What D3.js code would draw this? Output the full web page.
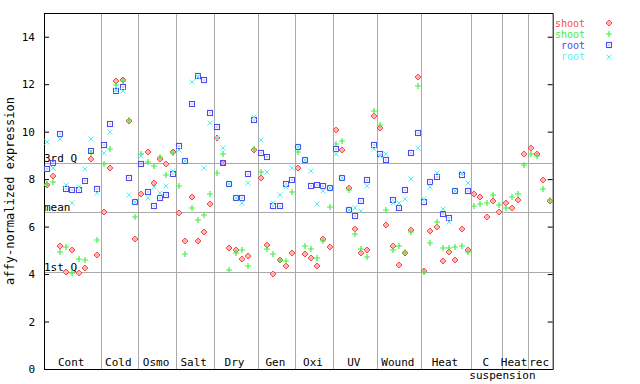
<!DOCTYPE html>
<html lang="en">
<head>
    <meta charset="UTF-8">
    <title>affy-normalized expression</title>
    <script src="https://d3js.org/d3.v7.min.js"></script>
    <style>
        body { margin: 0; background: #fff; }
        text { font-family: "DejaVu Sans Mono", monospace; font-size: 11px; }
    </style>
</head>
<body>
    <script>
        // groups of samples along x, and how many samples each holds
        var groupNames = ["Cont", "Cold", "Osmo", "Salt", "Dry", "Gen", "Oxi", "UV", "Wound", "Heat", "C", "Heat", "rec"];
        var groupSizes = [9, 6, 6, 6, 7, 6, 6, 7, 7, 8, 5, 4, 4];

        // shoot series (all 81 samples)
        var shootRed = [
            7.76, 8.12, 5.19, 4.09, 5.02, 4.04, 4.26, 8.86, 4.81,
            6.61, 8.47, 12.12, 12.18, 10.46, 5.47,
            7.37, 9.14, 7.83, 8.85, 8.64, 9.14,
            6.57, 5.39, 7.24, 5.39, 5.77, 6.95,
            9.73, 8.68, 5.09, 5.00, 4.63, 4.77, 9.24,
            8.05, 5.22, 4.00, 4.59, 4.33, 4.88,
            8.47, 4.84, 4.67, 4.33, 5.47, 5.13,
            10.07, 9.23, 7.64, 5.89, 4.88, 5.00, 10.66,
            10.16, 6.06, 5.19, 4.37, 4.89, 5.85, 12.31,
            4.13, 5.81, 5.98, 4.54, 4.91, 4.59, 5.89, 5.01,
            7.37, 7.24, 6.40, 7.07, 6.61,
            6.99, 6.78, 7.12, 9.06,
            9.31, 9.06, 7.96, 7.07
        ];
        var shootGreen = [
            7.79, 7.88, 4.93, 5.14, 4.05, 4.63, 4.59, 9.10, 5.43,
            8.65, 9.27, 11.95, 12.12, 10.50, 6.40,
            9.06, 8.72, 8.55, 8.93, 8.17, 9.10,
            7.72, 4.85, 6.78, 6.27, 6.48, 7.37,
            8.26, 9.06, 4.17, 4.88, 5.01, 4.33, 9.28,
            8.30, 5.05, 4.84, 4.59, 4.54, 7.45,
            9.14, 5.19, 5.05, 4.67, 5.39, 6.83,
            9.49, 9.60, 7.54, 5.69, 5.05, 4.71, 10.87,
            10.28, 6.69, 5.00, 5.18, 4.94, 5.77, 11.93,
            4.08, 5.31, 6.19, 5.09, 5.09, 5.13, 5.18, 4.95,
            6.86, 6.95, 6.99, 7.33, 6.91,
            6.78, 7.24, 7.37, 8.58,
            9.06, 8.99, 7.58, 7.10
        ];
        // root series (first 68 samples only)
        var rootBlue = [
            8.44, 8.68, 9.90, 7.58, 7.55, 7.55, 7.93, 9.18, 7.59,
            9.42, 10.32, 11.73, 11.87, 8.05, 7.02,
            8.64, 7.45, 6.86, 7.20, 7.33, 8.21,
            9.38, 8.75, 11.17, 12.33, 12.18, 10.78,
            10.20, 8.68, 7.81, 7.20, 7.20, 8.21, 10.50,
            9.10, 8.93, 6.86, 6.86, 7.81, 7.96,
            9.35, 8.80, 7.71, 7.75, 7.71, 7.62,
            9.27, 8.03, 6.69, 6.45, 7.07, 7.98, 9.44,
            9.06, 8.80, 7.12, 6.78, 7.54, 9.10, 9.94,
            7.03, 7.88, 8.09, 6.53, 6.36, 7.52, 8.17, 7.50
        ];
        var rootCyan = [
            9.58, 8.45, 9.69, 7.75, 6.99, 7.67, 8.44, 9.69, 7.40,
            9.10, 9.99, 11.75, 11.72, 7.33, 7.05,
            8.99, 7.20, 7.67, 7.41, 7.70, 8.35,
            9.22, 8.75, 12.10, 12.30, 8.47, 10.37,
            9.73, 9.31, 7.81, 7.20, 6.99, 7.83, 10.63,
            9.65, 8.30, 7.01, 7.33, 7.66, 8.47,
            9.35, 8.80, 8.34, 6.95, 7.48, 7.62,
            9.06, 8.03, 6.70, 6.80, 6.65, 7.71, 9.28,
            8.99, 9.06, 6.99, 6.99, 7.16, 8.00, 9.31,
            7.16, 7.67, 8.26, 6.74, 6.20, 7.52, 8.26, 7.83
        ];

        var yTicks = [0, 2, 4, 6, 8, 10, 12, 14];
        var refLabels = ["3rd Q", "mean", "1st Q"];
        var refValues = [8.68, 6.61, 4.08];
        var legendLabels = ["shoot", "shoot", "root", "root"];

        var colors = { red: "#ff4a4a", green: "#44ee44", blue: "#4c4cf0", cyan: "#55f2f2" };

        // plot box (names avoid window.top etc.)
        var svgWidth = 640, svgHeight = 384;
        var plotLeft = 44, plotRight = 552.7, plotTop = 13, plotBottom = 369;
        var total = d3.sum(groupSizes);

        var svg = d3.select("body").append("svg")
            .attr("width", svgWidth)
            .attr("height", svgHeight);

        var x = d3.scaleLinear().domain([0, total]).range([plotLeft, plotRight]);
        var y = d3.scaleLinear().domain([0, 15]).range([plotBottom, plotTop]);

        // cumulative start of each group
        var starts = [];
        var acc = 0;
        groupSizes.forEach(function(n) { starts.push(acc); acc += n; });

        // group dividers
        svg.selectAll("line.div")
            .data(starts.slice(1))
            .enter().append("line")
            .attr("x1", function(d) { return Math.round(x(d)) + 0.5; })
            .attr("x2", function(d) { return Math.round(x(d)) + 0.5; })
            .attr("y1", plotTop).attr("y2", plotBottom)
            .attr("stroke", "#aaa");

        // quartile / mean lines
        svg.selectAll("line.ref")
            .data(refValues)
            .enter().append("line")
            .attr("x1", plotLeft).attr("x2", plotRight)
            .attr("y1", function(d) { return Math.round(y(d)) + 0.5; })
            .attr("y2", function(d) { return Math.round(y(d)) + 0.5; })
            .attr("stroke", "#aaa");

        svg.selectAll("text.ref")
            .data(refValues)
            .enter().append("text")
            .attr("x", plotLeft)
            .attr("y", function(d) { return Math.round(y(d)) - 1; })
            .text(function(d, i) { return refLabels[i]; });

        // axes
        svg.append("g")
            .attr("transform", "translate(" + plotLeft + ",0)")
            .call(d3.axisLeft(y).tickValues(yTicks).tickSize(-5).tickPadding(9))
            .call(function(g) { g.selectAll("text").style("font-family", "DejaVu Sans Mono").style("font-size", "11px"); });

        svg.append("g")
            .attr("transform", "translate(" + plotRight + ",0)")
            .call(d3.axisRight(y).tickValues(yTicks).tickSize(-5).tickFormat(""));

        svg.append("line")
            .attr("x1", plotLeft).attr("x2", plotRight).attr("y1", plotTop + 0.5).attr("y2", plotTop + 0.5)
            .attr("stroke", "#000");
        svg.append("line")
            .attr("x1", plotLeft).attr("x2", plotRight).attr("y1", plotBottom + 0.5).attr("y2", plotBottom + 0.5)
            .attr("stroke", "#000");

        // group labels
        svg.selectAll("text.grp")
            .data(groupNames)
            .enter().append("text")
            .attr("x", function(d, i) { return x(starts[i] + groupSizes[i] / 2) - 1; })
            .attr("y", 366)
            .attr("text-anchor", "middle")
            .text(function(d) { return d; });
        svg.append("text")
            .attr("x", x(starts[11]))
            .attr("y", 379)
            .attr("text-anchor", "middle")
            .text("suspension");

        svg.append("text")
            .attr("transform", "translate(14," + (plotTop + plotBottom) / 2 + ") rotate(-90)")
            .attr("text-anchor", "middle")
            .style("font-size", "12px")
            .text("affy-normalized expression");

        // marker shapes (small, like the original bitmap glyphs)
        function diamond(g, c) {
            g.append("path").attr("d", "M0,-3L3,0L0,3L-3,0Z")
                .attr("fill", "#ffb4b4").attr("stroke", c).attr("stroke-width", 1);
        }
        function plus(g, c) {
            g.append("path").attr("d", "M-3,0H3M0,-3V3")
                .attr("stroke", c).attr("stroke-width", 1.2);
        }
        function square(g, c) {
            g.append("rect").attr("x", -2.5).attr("y", -2.5).attr("width", 5).attr("height", 5)
                .attr("fill", "none").attr("stroke", c).attr("stroke-width", 1.1);
            g.append("rect").attr("x", -0.5).attr("y", -0.5).attr("width", 1).attr("height", 1).attr("fill", c);
        }
        function cross(g, c) {
            g.append("path").attr("d", "M-2.5,-2.5L2.5,2.5M-2.5,2.5L2.5,-2.5")
                .attr("stroke", c).attr("stroke-width", 1);
        }

        var series = [
            { values: shootRed, color: colors.red, shape: diamond },
            { values: shootGreen, color: colors.green, shape: plus },
            { values: rootBlue, color: colors.blue, shape: square },
            { values: rootCyan, color: colors.cyan, shape: cross }
        ];

        series.forEach(function(s) {
            svg.append("g").selectAll("g")
                .data(s.values)
                .enter().append("g")
                .attr("transform", function(d, i) {
                    return "translate(" + Math.round(x(i + 0.5)) + "," + Math.round(y(d)) + ")";
                })
                .each(function() { s.shape(d3.select(this), s.color); });
        });

        // legend
        var legend = svg.append("g");
        series.forEach(function(s, i) {
            legend.append("text")
                .attr("x", 585).attr("y", 26.5 + i * 11.2)
                .attr("text-anchor", "end")
                .attr("fill", s.color)
                .style("font-size", "10px")
                .text(legendLabels[i]);
            var m = legend.append("g").attr("transform", "translate(609," + Math.round(23 + i * 11.2) + ")");
            s.shape(m, s.color);
        });
    </script>
</body>
</html>
